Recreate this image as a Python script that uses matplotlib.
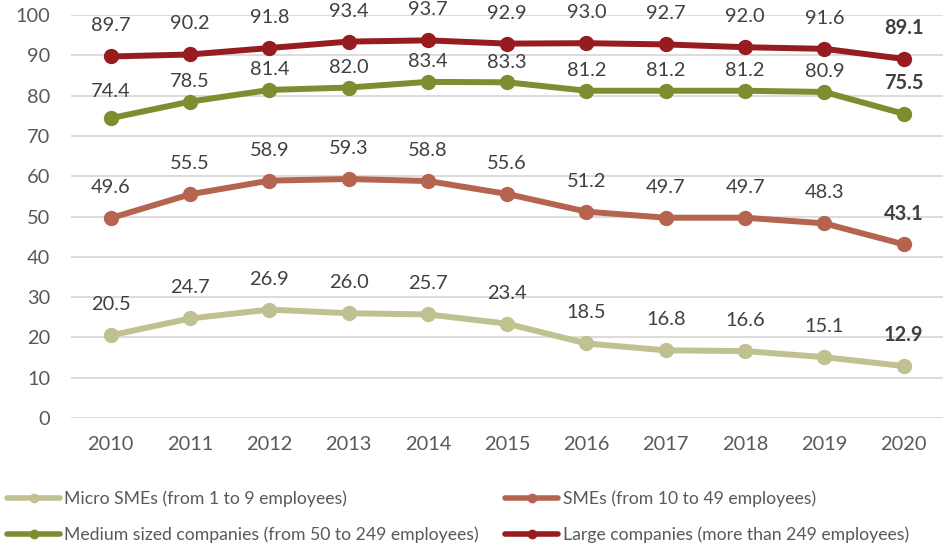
import matplotlib.pyplot as plt

# data
years = ['2010', '2011', '2012', '2013', '2014', '2015', '2016', '2017', '2018', '2019', '2020']
micro = [20.5, 24.7, 26.9, 26.0, 25.7, 23.4, 18.5, 16.8, 16.6, 15.1, 12.9]
smes = [49.6, 55.5, 58.9, 59.3, 58.8, 55.6, 51.2, 49.7, 49.7, 48.3, 43.1]
medium = [74.4, 78.5, 81.4, 82.0, 83.4, 83.3, 81.2, 81.2, 81.2, 80.9, 75.5]
large = [89.7, 90.2, 91.8, 93.4, 93.7, 92.9, 93.0, 92.7, 92.0, 91.6, 89.1]

names = ['Micro SMEs (from 1 to 9 employees)',
         'SMEs (from 10 to 49 employees)',
         'Medium sized companies (from 50 to 249 employees)',
         'Large companies (more than 249 employees)']
colors = ['#C0C190', '#B4644F', '#808C30', '#961C1F']
series = [micro, smes, medium, large]
# label distance above the point, in points
label_offset = [22, 22, 14.5, 22]

plt.rcParams['font.family'] = ['Lato', 'DejaVu Sans']

fig = plt.figure(figsize=(9.48, 5.47), dpi=100)
ax = fig.add_axes([0.075, 0.2358, 0.92, 0.7368])

x = list(range(len(years)))
handles = []
for vals, col, name, off in zip(series, colors, names, label_offset):
    h, = ax.plot(x, vals, color=col, lw=4.3, marker='o', markersize=10,
                 solid_capstyle='round', label=name, zorder=3)
    handles.append(h)
    for i, v in enumerate(vals):
        last = i == len(vals) - 1
        o = off
        if name.startswith('Medium') and i == 0:
            o = 19
        if name.startswith('Medium') and last:
            o = 22
        ax.annotate(f'{v:.1f}', (i, v), xytext=(0, o), textcoords='offset points',
                    ha='center', va='center', fontsize=14.4, color='#404040',
                    fontweight='bold' if last else 'normal', zorder=4)

ax.set_xlim(-0.5, len(years) - 0.5)
ax.set_ylim(0, 100)
ax.set_yticks(range(0, 101, 10))
ax.set_xticks(x)
ax.set_xticklabels(years)
ax.tick_params(length=0, labelsize=14.4, labelcolor='#595959')
ax.tick_params(axis='x', pad=13)
ax.tick_params(axis='y', pad=15)
ax.grid(axis='y', color='#D9D9D9', lw=1.3, zorder=0)
for s in ax.spines.values():
    s.set_visible(False)

# legend: order fills rows left to right
order = [0, 2, 1, 3]
leg = fig.legend([handles[i] for i in order], [names[i] for i in order],
                 loc='lower left', bbox_to_anchor=(0.0, -0.005), ncol=2,
                 frameon=False, fontsize=12.7, handlelength=3.0,
                 handletextpad=0.25, columnspacing=1.5, labelspacing=1.1,
                 markerscale=0.6, borderaxespad=0.2, borderpad=0.2)
for t in leg.get_texts():
    t.set_color('#595959')
for lh in leg.get_lines():
    lh.set_linewidth(4)

plt.savefig('out.png')
